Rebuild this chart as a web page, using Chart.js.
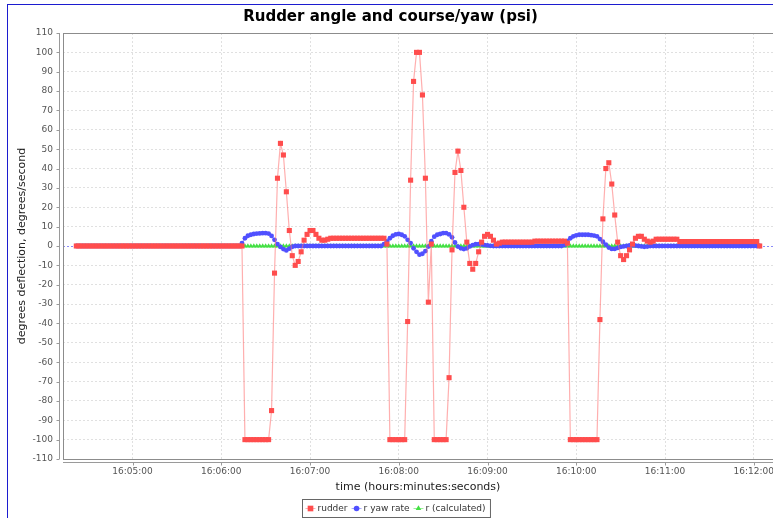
<!DOCTYPE html>
<html>
<head>
<meta charset="utf-8">
<script src="https://cdn.jsdelivr.net/npm/chart.js@4.4.1/dist/chart.umd.min.js"></script>
<style>
html, body { margin: 0; padding: 0; background: #fff; }
#frame { position: absolute; left: 0; top: 0; width: 773px; height: 518px; overflow: hidden; }
#edge { position: absolute; left: 7px; top: 4px; width: 800px; height: 600px; border-left: 1px solid #1c1cd0; border-top: 1px solid #1c1cd0; }
#chart { position: absolute; left: 8px; top: 5px; }
</style>
</head>
<body>
<div id="frame">
  <div id="edge"></div>
  <canvas id="chart" width="776" height="513"></canvas>
</div>
<script>
// sample clock: one reading every 2 seconds
const startTime = '16:04:22';
const sampleStep = 2;
const axisStart = '16:04:13';
const axisEnd = '16:12:13';
const tickLabels = ['16:05:00', '16:06:00', '16:07:00', '16:08:00', '16:09:00', '16:10:00', '16:11:00', '16:12:00'];
const seriesNames = ['rudder', 'r yaw rate', 'r (calculated)'];

const rudder = [
  0,0,0,0,0,0,0,0,0,0, 0,0,0,0,0,0,0,0,0,0,
  0,0,0,0,0,0,0,0,0,0, 0,0,0,0,0,0,0,0,0,0,
  0,0,0,0,0,0,0,0,0,0, 0,0,0,0,0,0,0,
  -100,-100,-100,-100,-100,-100,-100,-100,-100,
  -85,-14,35,53,47,28,8,-5,-10,-8, -3,3,6,8,8,6,4,3,3,3.5,
  4,4,4,4,4,4,4,4,4,4, 4,4,4,4,4,4,4,4,4,
  1,
  -100,-100,-100,-100,-100,-100,
  -39,34,85,100,100,78,35,-29,1,
  -100,-100,-100,-100,-100,
  -68,-2,38,49,39,20,2,-9,-12,-9, -3,2,5,6,5,3,1,1.5,
  2,2,2,2,2,2,2,2,2,2,2,
  2.5,2.5,2.5,2.5,2.5,2.5,2.5,2.5,2.5,2.5,2.5,
  1.5,
  -100,-100,-100,-100,-100,-100,-100,-100,-100,-100,
  -38,14,40,43,32,16,2,-5,-7,-5, -2,1,4,5,5,3.5,2.5,2,2.5,
  3.5,3.5,3.5,3.5,3.5,3.5,3.5,3.5,
  2.3,2.3,2.3,2.3,2.3,2.3,2.3,2.3,2.3,2.3, 2.3,2.3,2.3,2.3,2.3,2.3,2.3,2.3,2.3,2.3, 2.3,2.3,2.3,2.3,2.3,2.3,2.3,
  0
];

const yawRate = [
  0,0,0,0,0,0,0,0,0,0, 0,0,0,0,0,0,0,0,0,0,
  0,0,0,0,0,0,0,0,0,0, 0,0,0,0,0,0,0,0,0,0,
  0,0,0,0,0,0,0,0,0,0, 0,0,0,0,0,0,
  1.5,4,5.3,5.8,6.2,6.4,6.5,6.6,6.6,6.4, 5.2,3.2,1,-0.5,-1.6,-2.3,-1.4,-0.4,
  0,0,0,0,0,0,0,0,0,0, 0,0,0,0,0,0,0,0,0,0, 0,0,0,0,0,0,0,0,0,
  0,1,2.4,4,5.3,6,6.2,5.8,5,3.2, 1.5,-1.2,-3,-4.5,-4,-2.6,-0.3,2.5,4.8,5.8,
  6.2,6.6,6.7,6,4.5,1.8,-0.3,-1.2,-1.6,-1.2, -0.2,0.5,0.9,1,0.8,0.5,0.3,0.1,
  0,0,0,0,0,0,0,0,0,0, 0,0,0,0,0,0,0,0,0,0, 0,0,0,0,
  0.5,2.5,4,5,5.5,5.8,5.8,5.8,5.8,5.6, 5.4,5,3.6,2.2,0.7,-0.8,-1.5,-1.5,-1,-0.5,
  -0.2,0,0.3,0.3,0.2,0,-0.2,-0.4,-0.3,
  0,0,0,0,0,0,0,0,0,0, 0,0,0,0,0,0,0,0,0,0, 0,0,0,0,0,0,0,0,0,0, 0,0,0,0,0,0,0,0
];

const rCalc = [
  0,0,0,0,0,0,0,0,0,0, 0,0,0,0,0,0,0,0,0,0,
  0,0,0,0,0,0,0,0,0,0, 0,0,0,0,0,0,0,0,0,0,
  0,0,0,0,0,0,0,0,0,0, 0,0,0,0,0,0,0,0,0,0,
  0,0,0,0,0,0,0,0,0,0, 0,0,0,0,0,0,0,0,0,0,
  0,0,0,0,0,0,0,0,0,0, 0,0,0,0,0,0,0,0,0,0,
  0,0,0,0,0,0,0,0,0,0, 0,0,0,0,0,0,0,0,0,0,
  0,0,0,0,0,0,0,0,0,0, 0,0,0,0,0,0,0,0,0,0,
  0,0,0,0,0,0,0,0,0,0, 0,0,0,0,0,0,0,0,0,0,
  0,0,0,0,0,0,0,0,0,0, 0,0,0,0,0,0,0,0,0,0,
  0,0,0,0,0,0,0,0,0,0, 0,0,0,0,0,0,0,0,0,0,
  0,0,0,0,0,0,0,0,0,0, 0,0,0,0,0,0,0,0,0,0,
  0,0,0,0,0,0,0,0,0,0, 0,0
];

function toSec(s){
    const p = s.split(':').map(Number);
    return p[0] * 3600 + p[1] * 60 + p[2];
}

function points(values){
    const t0 = toSec(startTime);
    return values.map((v, i) => ({x: t0 + i * sampleStep, y: v}));
}

Chart.defaults.font.family = "'DejaVu Sans', sans-serif";

const styles = [
    {line: 'rgba(255,110,110,0.55)', fill: '#ff4d4d', shape: 'rect', r: 3.6},
    {line: 'rgba(100,100,255,0.55)', fill: '#5050ff', shape: 'circle', r: 2.4},
    {line: 'rgba(85,230,85,0.6)', fill: '#44e044', shape: 'triangle', r: 2.8}
];

// plot outline, offset axis lines, tick marks, zero line and boxed legend
const decor = {
    id: 'decor',
    beforeDatasetsDraw(chart){
        const {ctx, chartArea: a, scales: {y}} = chart;
        const y0 = Math.round(y.getPixelForValue(0)) + 0.5;
        ctx.save();
        ctx.strokeStyle = 'rgba(110,110,255,0.75)';
        ctx.lineWidth = 1;
        ctx.setLineDash([2, 2]);
        ctx.beginPath();
        ctx.moveTo(a.left, y0);
        ctx.lineTo(a.right, y0);
        ctx.stroke();
        ctx.restore();
    },
    afterDraw(chart){
        const {ctx, chartArea: a, scales: {x, y}} = chart;
        ctx.save();
        ctx.lineWidth = 1;
        ctx.strokeStyle = '#8c8c8c';
        ctx.strokeRect(a.left + 0.5, a.top + 0.5, a.right - a.left, a.bottom - a.top);

        const ax = a.left - 3.5;
        const ay = a.bottom + 3.5;
        ctx.strokeStyle = '#9a9a9a';
        ctx.beginPath();
        ctx.moveTo(ax, a.top); ctx.lineTo(ax, a.bottom);
        ctx.moveTo(a.left, ay); ctx.lineTo(a.right, ay);
        y.ticks.forEach(t => {
            const py = Math.round(y.getPixelForValue(t.value)) + 0.5;
            ctx.moveTo(ax - 3, py); ctx.lineTo(ax, py);
        });
        x.ticks.forEach(t => {
            const px = Math.round(x.getPixelForValue(t.value)) + 0.5;
            ctx.moveTo(px, ay); ctx.lineTo(px, ay + 3);
        });
        ctx.stroke();

        // legend
        ctx.font = "9px 'DejaVu Sans'";
        const items = chart.data.datasets.map((d, i) => ({label: d.label, st: styles[i], w: ctx.measureText(d.label).width}));
        const boxW = 3 + items.reduce((s, it) => s + 16 + it.w, 0) + 1;
        const boxL = Math.round(chart.width / 2 - boxW / 2) + 0.5;
        const boxT = 494.5;
        const boxH = 18;
        ctx.strokeStyle = '#666';
        ctx.strokeRect(boxL, boxT, boxW, boxH);
        let cx = boxL + 3;
        const cy = boxT + boxH / 2;
        items.forEach(it => {
            const mx = cx + 5;
            ctx.strokeStyle = it.st.line;
            ctx.beginPath(); ctx.moveTo(mx - 5, cy); ctx.lineTo(mx + 5, cy); ctx.stroke();
            ctx.fillStyle = it.st.fill;
            Chart.helpers.drawPoint(ctx, {pointStyle: it.st.shape, radius: it.st.r + 0.4, rotation: 0, borderWidth: 0}, mx, cy);
            ctx.fillStyle = '#333';
            ctx.textBaseline = 'middle';
            ctx.textAlign = 'left';
            ctx.fillText(it.label, mx + 7, cy);
            cx = mx + 7 + it.w + 4;
        });
        ctx.restore();
    }
};

const seriesData = [rudder, yawRate, rCalc];

new Chart(document.getElementById('chart'), {
    type: 'line',
    plugins: [decor],
    data: {
        datasets: seriesData.map((vals, i) => ({
            label: seriesNames[i],
            data: points(vals),
            borderColor: styles[i].line,
            borderWidth: 1.2,
            pointStyle: styles[i].shape,
            pointRadius: styles[i].r,
            pointBackgroundColor: styles[i].fill,
            pointBorderWidth: 0,
            tension: 0
        }))
    },
    options: {
        responsive: false,
        animation: false,
        events: [],
        layout: { padding: { left: 0, right: 11, top: 0, bottom: 21 } },
        plugins: {
            legend: { display: false },
            tooltip: { enabled: false },
            title: {
                display: true,
                text: 'Rudder angle and course/yaw (psi)',
                color: '#000',
                font: { size: 15, weight: 'bold' },
                padding: { top: 3, bottom: 7 }
            }
        },
        scales: {
            x: {
                type: 'linear',
                min: toSec(axisStart),
                max: toSec(axisEnd),
                afterBuildTicks: s => { s.ticks = tickLabels.map(l => ({value: toSec(l)})); },
                afterFit: s => { s.height = 38; },
                grid: { color: '#e0e0e0', drawTicks: false },
                border: { display: false, dash: [2, 2] },
                ticks: { padding: 7, color: '#555', font: { size: 9 }, maxRotation: 0, autoSkip: false,
                    callback: (v, i) => tickLabels[i] },
                title: { display: true, text: 'time (hours:minutes:seconds)', color: '#222',
                    font: { size: 11 }, padding: { top: 0, bottom: 3.4 } }
            },
            y: {
                min: -110,
                max: 110,
                afterFit: s => { s.width = 55; },
                grid: { color: '#e0e0e0', drawTicks: false },
                border: { display: false, dash: [2, 2] },
                ticks: { stepSize: 10, padding: 10, color: '#555', font: { size: 9 }, autoSkip: false,
                    callback: v => String(v) },
                title: { display: true, text: 'degrees deflection, degrees/second', color: '#222',
                    font: { size: 11 }, padding: { top: 7.4, bottom: 0 } }
            }
        }
    }
});
</script>
</body>
</html>
